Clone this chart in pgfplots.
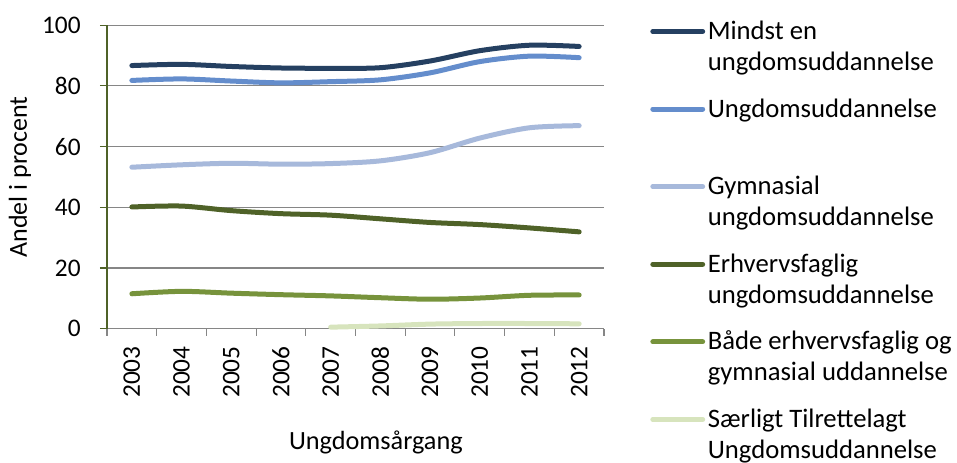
\documentclass[border=0pt]{standalone}
\usepackage{pgfplots}
\pgfplotsset{compat=1.18}
\usepackage{fontspec}
\setmainfont{Carlito}
\definecolor{cA}{RGB}{37,64,97}
\definecolor{cB}{RGB}{100,141,204}
\definecolor{cC}{RGB}{167,185,219}
\definecolor{cD}{RGB}{79,98,40}
\definecolor{cE}{RGB}{119,147,60}
\definecolor{cF}{RGB}{215,228,189}
\definecolor{gridc}{RGB}{134,134,134}
\definecolor{yax}{RGB}{79,98,40}
\begin{document}
\begin{tikzpicture}
\useasboundingbox (0,0) rectangle (717.75pt,346.5pt);
\begin{axis}[
  at={(80.25pt,100pt)}, anchor=south west,
  scale only axis, width=372.75pt, height=227.6pt,
  xmin=-0.5, xmax=9.5, ymin=0, ymax=100,
  clip=false,
  axis lines*=left,
  x axis line style={gridc, line width=0.8pt},
  y axis line style={yax, line width=0.8pt},
  xtick={0,...,9},
  xticklabels={2003,2004,2005,2006,2007,2008,2009,2010,2011,2012},
  major x tick style={draw=none},
  minor xtick={-0.5,0.5,...,9.5},
  minor x tick style={gridc, line width=0.8pt},
  minor tick length=5.25pt,
  ytick={0,20,...,100},
  major y tick style={yax, line width=0.8pt},
  major tick length=5.25pt,
  tick align=outside,
  ymajorgrids, grid style={gridc, line width=0.8pt},
  font=\fontsize{19.5}{23.25}\selectfont,
  /pgf/number format/assume math mode=true,
  xticklabel style={yshift=-4.5pt, rotate=90, anchor=east, font=\fontsize{19}{23}\selectfont},
  yticklabel style={xshift=-11pt, font=\fontsize{19}{23}\selectfont},
  ylabel={Andel i procent},
  ylabel style={at={(axis description cs:-0.175,0.5)}, anchor=center, rotate=0, font=\fontsize{19.5}{23}\selectfont},
  xlabel={Ungdomsårgang},
  xlabel style={at={(axis description cs:0.541,-0.375)}, anchor=center, font=\fontsize{19.7}{23}\selectfont},
  every axis plot/.append style={line width=3.75pt, smooth, tension=0.5, line cap=round, line join=round},
  legend cell align=left,
  legend image code/.code={\draw[#1] (1.9pt,6pt) -- (39.3pt,6pt);},
  legend style={at={(1.0926,1.0155)}, anchor=north west, draw=none, fill=none,
    inner sep=0pt, row sep=14.2pt, column sep=2pt,
    font=\fontsize{20}{23.25}\selectfont,
    cells={anchor=base west},
    nodes={inner sep=0pt, text height=14pt, text depth=30pt}},
]
\addplot[cA] coordinates {(0,86.7)(1,87.1)(2,86.4)(3,85.9)(4,85.8)(5,86.0)(6,88.2)(7,91.6)(8,93.4)(9,93.0)};
\addlegendentry{\parbox[t]{250pt}{Mindst en\\ungdomsuddannelse}}
\addplot[cB] coordinates {(0,81.8)(1,82.3)(2,81.6)(3,81.0)(4,81.4)(5,82.0)(6,84.3)(7,88.0)(8,89.8)(9,89.3)};
\addlegendentry{\parbox[t]{250pt}{Ungdomsuddannelse}}
\addplot[cC] coordinates {(0,53.2)(1,54.0)(2,54.5)(3,54.2)(4,54.4)(5,55.3)(6,58.0)(7,62.8)(8,66.2)(9,66.9)};
\addlegendentry{\parbox[t]{250pt}{Gymnasial\\ungdomsuddannelse}}
\addplot[cD] coordinates {(0,40.1)(1,40.4)(2,38.9)(3,37.9)(4,37.4)(5,36.2)(6,35.0)(7,34.3)(8,33.2)(9,31.9)};
\addlegendentry{\parbox[t]{250pt}{Erhvervsfaglig\\ungdomsuddannelse}}
\addplot[cE] coordinates {(0,11.5)(1,12.3)(2,11.7)(3,11.2)(4,10.8)(5,10.2)(6,9.7)(7,10.1)(8,11.0)(9,11.1)};
\addlegendentry{\parbox[t]{250pt}{Både erhvervsfaglig og\\gymnasial uddannelse}}
\addplot[cF] coordinates {(4,0.5)(5,0.9)(6,1.5)(7,1.7)(8,1.7)(9,1.6)};
\addlegendentry{\parbox[t]{250pt}{Særligt Tilrettelagt\\Ungdomsuddannelse}}
\end{axis}
\end{tikzpicture}
\end{document}
